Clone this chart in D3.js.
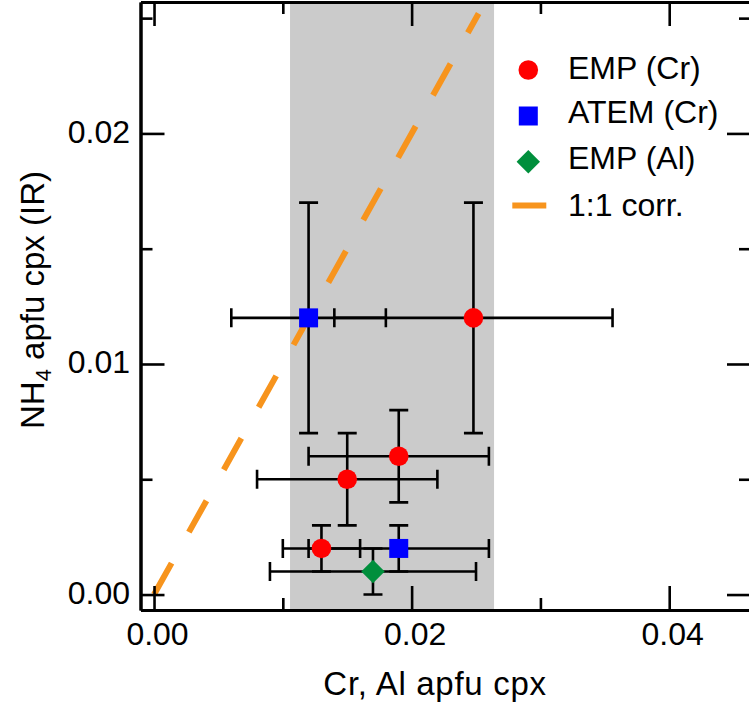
<!DOCTYPE html>
<html>
<head>
<meta charset="utf-8">
<script src="https://cdn.jsdelivr.net/npm/d3@7"></script>
<style>
  html, body { margin: 0; padding: 0; background: #fff; }
  svg { display: block; font-family: "Liberation Sans", Arial, Helvetica, sans-serif; }
</style>
</head>
<body>
<svg id="chart" width="749" height="709"></svg>
<script>
// ---- data ----
const seriesNames = ["EMP (Cr)", "ATEM (Cr)", "EMP (Al)", "1:1 corr."];
const empCrX    = [0.0248, 0.019, 0.015, 0.013];
const empCrY    = [0.012, 0.006, 0.005, 0.002];
const empCrXErr = [0.0108, 0.007, 0.007, 0.003];
const empCrYErr = [0.005, 0.002, 0.002, 0.001];
const atemCrX    = [0.012, 0.019];
const atemCrY    = [0.012, 0.002];
const atemCrXErr = [0.006, 0.007];
const atemCrYErr = [0.005, 0.001];
const empAlX    = [0.017];
const empAlY    = [0.001];
const empAlXErr = [0.008];
const empAlYErr = [0.001];
const bandRange = [0.01056, 0.0264];
const corrLine  = [0, 0.0252];
const xTicksMajor = [0, 0.02, 0.04];
const xTicksMinor = [0.01, 0.03];
const yTicksMajor = [0, 0.01, 0.02];
const yTicksMinor = [0.005, 0.015, 0.025];
const xTitle = "Cr, Al apfu cpx";

// ---- layout ----
const L = 140.5, R = 751, T = 2, B = 610;
const x = d3.scaleLinear().domain([-0.00105, 0.04635]).range([L, R]);
const y = d3.scaleLinear().domain([-0.00067, 0.0257]).range([B, T]);

const svg = d3.select("#chart");
const colors = { empCr: "#ff0000", atemCr: "#0000ff", empAl: "#008f3c", corr: "#f7941d" };

// gray band
svg.append("rect")
  .attr("x", x(bandRange[0])).attr("y", T)
  .attr("width", x(bandRange[1]) - x(bandRange[0]))
  .attr("height", B - T)
  .attr("fill", "#cbcbcb");

// 1:1 line
svg.append("line")
  .attr("x1", x(corrLine[0])).attr("y1", y(corrLine[0]))
  .attr("x2", x(corrLine[1])).attr("y2", y(corrLine[1]))
  .attr("stroke", colors.corr).attr("stroke-width", 6)
  .attr("stroke-dasharray", "36 35.5").attr("stroke-linecap", "butt");

// error bars
function errorBars(xs, ys, xe, ye) {
  const g = svg.append("g").attr("stroke", "#000").attr("stroke-width", 2.6).attr("fill", "none");
  const cap = 9.5;
  xs.forEach((xv, i) => {
    const yv = ys[i];
    const xl = x(xv - xe[i]), xr = x(xv + xe[i]), yc = y(yv);
    const yt = y(yv + ye[i]), yb = y(yv - ye[i]), xc = x(xv);
    g.append("path").attr("d",
      `M${xl},${yc}H${xr}M${xl},${yc - cap}V${yc + cap}M${xr},${yc - cap}V${yc + cap}` +
      `M${xc},${yt}V${yb}M${xc - cap},${yt}H${xc + cap}M${xc - cap},${yb}H${xc + cap}`);
  });
}
errorBars(empCrX, empCrY, empCrXErr, empCrYErr);
errorBars(atemCrX, atemCrY, atemCrXErr, atemCrYErr);
errorBars(empAlX, empAlY, empAlXErr, empAlYErr);

// markers
const circleSym = d3.symbol().type(d3.symbolCircle).size(Math.PI * 9.8 * 9.8);
const squareSym = d3.symbol().type(d3.symbolSquare).size(19 * 19);
const diamondPath = h => `M0,${-h}L${h},0L0,${h}L${-h},0Z`;

svg.append("g").selectAll("path").data(empCrX).join("path")
  .attr("d", circleSym).attr("fill", colors.empCr)
  .attr("transform", (d, i) => `translate(${x(d)},${y(empCrY[i])})`);
svg.append("g").selectAll("path").data(atemCrX).join("path")
  .attr("d", squareSym).attr("fill", colors.atemCr)
  .attr("transform", (d, i) => `translate(${x(d)},${y(atemCrY[i])})`);
svg.append("g").selectAll("path").data(empAlX).join("path")
  .attr("d", diamondPath(11.7)).attr("fill", colors.empAl)
  .attr("transform", (d, i) => `translate(${x(d)},${y(empAlY[i])})`);

// axes
const fmt = d3.format(".2f");
function styleAxis(g) {
  g.selectAll("path.domain").attr("stroke", "#000").attr("stroke-width", 3);
  g.selectAll(".tick line").attr("stroke", "#000").attr("stroke-width", 2.6);
  g.selectAll(".tick text").attr("fill", "#000").attr("font-size", 32)
    .attr("font-family", "Liberation Sans, Arial, Helvetica, sans-serif");
}
// bottom
svg.append("g").attr("transform", `translate(0,${B})`)
  .call(d3.axisBottom(x).tickValues(xTicksMajor).tickFormat(fmt).tickSize(-24).tickSizeOuter(0).tickPadding(12))
  .call(styleAxis)
  .call(g => g.selectAll(".tick text").attr("dx", 3));
svg.append("g").attr("transform", `translate(0,${B})`)
  .call(d3.axisBottom(x).tickValues(xTicksMinor).tickFormat("").tickSize(-12).tickSizeOuter(0))
  .call(styleAxis);
// top
svg.append("g").attr("transform", `translate(0,${T})`)
  .call(d3.axisTop(x).tickValues(xTicksMajor).tickFormat("").tickSize(-24).tickSizeOuter(0))
  .call(styleAxis);
svg.append("g").attr("transform", `translate(0,${T})`)
  .call(d3.axisTop(x).tickValues(xTicksMinor).tickFormat("").tickSize(-12).tickSizeOuter(0))
  .call(styleAxis);
// left
svg.append("g").attr("transform", `translate(${L},0)`)
  .call(d3.axisLeft(y).tickValues(yTicksMajor).tickFormat(fmt).tickSize(-24).tickSizeOuter(0).tickPadding(10.5))
  .call(styleAxis)
  .call(g => g.selectAll(".tick text").attr("dy", "0.27em"));
svg.append("g").attr("transform", `translate(${L},0)`)
  .call(d3.axisLeft(y).tickValues(yTicksMinor).tickFormat("").tickSize(-12).tickSizeOuter(0))
  .call(styleAxis);
// right
svg.append("g").attr("transform", `translate(${R},0)`)
  .call(d3.axisRight(y).tickValues(yTicksMajor).tickFormat("").tickSize(-24).tickSizeOuter(0))
  .call(styleAxis);
svg.append("g").attr("transform", `translate(${R},0)`)
  .call(d3.axisRight(y).tickValues(yTicksMinor).tickFormat("").tickSize(-12).tickSizeOuter(0))
  .call(styleAxis);

// axis titles
svg.append("text")
  .attr("x", 435).attr("y", 695)
  .attr("text-anchor", "middle").attr("font-size", 33).attr("letter-spacing", 0.7)
  .attr("fill", "#000")
  .text(xTitle);

const yt = svg.append("text")
  .attr("transform", "translate(44,300) rotate(-90)")
  .attr("text-anchor", "middle").attr("font-size", 33).attr("fill", "#000");
yt.append("tspan").text("NH");
yt.append("tspan").attr("font-size", 22).attr("dy", 7).text("4");
yt.append("tspan").attr("dy", -7).text(" apfu cpx (IR)");

// legend
const legX = 528.3, textX = 568;
const symY = [70, 116, 161.7, 205.5];
const txtY = [79.3, 123.3, 169.3, 216];
svg.append("path").attr("d", circleSym).attr("fill", colors.empCr)
  .attr("transform", `translate(${legX},${symY[0]})`);
svg.append("path").attr("d", squareSym).attr("fill", colors.atemCr)
  .attr("transform", `translate(${legX},${symY[1]})`);
svg.append("path").attr("d", diamondPath(11.7)).attr("fill", colors.empAl)
  .attr("transform", `translate(${legX},${symY[2]})`);
svg.append("line")
  .attr("x1", legX - 16).attr("x2", legX + 18)
  .attr("y1", symY[3]).attr("y2", symY[3])
  .attr("stroke", colors.corr).attr("stroke-width", 6);
svg.append("g").selectAll("text").data(seriesNames).join("text")
  .attr("x", textX).attr("y", (d, i) => txtY[i])
  .attr("font-size", 32).attr("fill", "#000")
  .text(d => d);
</script>
</body>
</html>
